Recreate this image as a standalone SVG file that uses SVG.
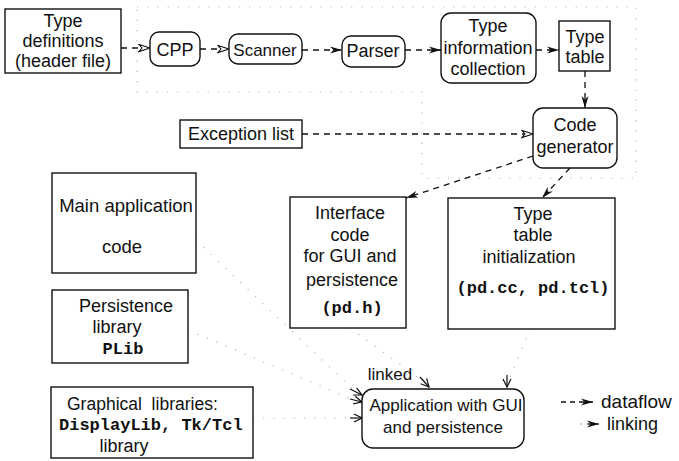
<svg xmlns="http://www.w3.org/2000/svg" width="679" height="461" viewBox="0 0 679 461">
<style>
.box{fill:#fff;stroke:#111;stroke-width:1.4}
.t{font-family:"Liberation Sans",Arial,sans-serif;font-size:18px;fill:#111;text-anchor:middle}
.m{font-family:"Liberation Mono","Courier New",monospace;font-size:17px;font-weight:bold;fill:#111;text-anchor:middle}
.df{fill:none;stroke:#111;stroke-width:1.3;stroke-dasharray:6 5}
.dot{fill:none;stroke:#b5b5b5;stroke-width:1.2;stroke-dasharray:1.2 9}
.lk{fill:none;stroke:#111;stroke-width:1.2}
</style>
<defs>
<marker id="ah" viewBox="0 0 12 8" refX="12" refY="4" markerWidth="12" markerHeight="8" markerUnits="userSpaceOnUse" orient="auto">
<path d="M0,0.5 L12,4 L0,7.5 L3.5,4 z" fill="#111"/>
</marker>
<marker id="ao" viewBox="0 0 13 9" refX="12" refY="4.5" markerWidth="13" markerHeight="9" markerUnits="userSpaceOnUse" orient="auto">
<path d="M1,1 L12,4.5 L1,8 L4,4.5 z" fill="#fff" stroke="#111" stroke-width="1.1"/>
</marker>
<marker id="lv" viewBox="0 0 10 10" refX="9" refY="5" markerWidth="10" markerHeight="10" markerUnits="userSpaceOnUse" orient="auto">
<path d="M1,1 L9,5 L1,9" fill="none" stroke="#111" stroke-width="1.2"/>
</marker>
</defs>

<g id="faint-linking" class="dot">
<path d="M137,7 H636 V178 H422 V92 H137 Z"/>
<path d="M196,240 L360,396"/>
<path d="M188,330 L358,402"/>
<path d="M253,418 L358,418"/>
<path d="M350,328 L428,385"/>
<path d="M530,329 L507,385"/>
</g>

<g id="connectors">
<path class="df" d="M121,48 H150" marker-end="url(#ao)"/>
<path class="df" d="M200,49 H229" marker-end="url(#ao)"/>
<path class="df" d="M302,50 H342" marker-end="url(#ah)"/>
<path class="df" d="M405,50 H441" marker-end="url(#ah)"/>
<path class="df" d="M536,50 H559" marker-end="url(#ah)"/>
<path class="df" d="M585,71 V108" marker-end="url(#ah)"/>
<path class="df" d="M302,134 H533" marker-end="url(#ao)"/>
<path class="df" d="M533,156 L406,198" marker-end="url(#ah)"/>
<path class="df" d="M570,168 L542,198" marker-end="url(#ah)"/>
<path class="lk" d="M420,377 L429,387" marker-end="url(#lv)"/>
<path class="lk" d="M507,375 L507,387" marker-end="url(#lv)"/>
<path class="lk" d="M350,389 L362,395" marker-end="url(#lv)"/>
<path class="lk" d="M350,399 L362,402" marker-end="url(#lv)"/>
<path class="lk" d="M350,418 L362,418" marker-end="url(#lv)"/>
</g>

<g id="type-definitions">
<rect class="box" x="5" y="9" width="116" height="64"/>
<text class="t" x="63" y="27">Type</text>
<text class="t" x="63" y="47">definitions</text>
<text class="t" x="63" y="67">(header file)</text>
</g>
<g id="cpp">
<rect class="box" x="150" y="32" width="50" height="34" rx="9"/>
<text class="t" x="175" y="56">CPP</text>
</g>
<g id="scanner">
<rect class="box" x="229" y="34" width="73" height="30" rx="9"/>
<text class="t" x="265" y="56" style="font-size:17px">Scanner</text>
</g>
<g id="parser">
<rect class="box" x="342" y="36" width="63" height="31" rx="9"/>
<text class="t" x="373" y="57">Parser</text>
</g>
<g id="type-information-collection">
<rect class="box" x="441" y="13" width="95" height="70" rx="10"/>
<text class="t" x="488" y="32">Type</text>
<text class="t" x="488" y="54">information</text>
<text class="t" x="488" y="75">collection</text>
</g>
<g id="type-table">
<rect class="box" x="559" y="21" width="51" height="50"/>
<text class="t" x="585" y="43">Type</text>
<text class="t" x="585" y="63">table</text>
</g>
<g id="exception-list">
<rect class="box" x="180" y="120" width="122" height="28"/>
<text class="t" x="241" y="140">Exception list</text>
</g>
<g id="code-generator">
<rect class="box" x="533" y="108" width="84" height="60" rx="10"/>
<text class="t" x="575" y="131">Code</text>
<text class="t" x="575" y="153">generator</text>
</g>
<g id="main-application-code">
<rect class="box" x="52" y="173" width="144" height="100"/>
<text class="t" x="126" y="212" style="font-size:18.5px">Main application</text>
<text class="t" x="122" y="253" style="font-size:18.5px">code</text>
</g>
<g id="interface-code">
<rect class="box" x="290" y="197" width="116" height="131"/>
<text class="t" x="350" y="219">Interface</text>
<text class="t" x="350" y="241">code</text>
<text class="t" x="350" y="262">for GUI and</text>
<text class="t" x="352" y="286">persistence</text>
<text class="m" x="352" y="313">(pd.h)</text>
</g>
<g id="type-table-initialization">
<rect class="box" x="448" y="198" width="167" height="131"/>
<text class="t" x="533" y="220">Type</text>
<text class="t" x="533" y="241">table</text>
<text class="t" x="529" y="263">initialization</text>
<text class="m" x="533" y="293">(pd.cc, pd.tcl)</text>
</g>
<g id="persistence-library">
<rect class="box" x="52" y="290" width="136" height="73"/>
<text class="t" x="126" y="312">Persistence</text>
<text class="t" x="117" y="333">library</text>
<text class="m" x="123" y="354">PLib</text>
</g>
<g id="graphical-libraries">
<rect class="box" x="51" y="387" width="202" height="71"/>
<text class="t" x="67" y="410" style="text-anchor:start;font-size:17.5px" xml:space="preserve">Graphical  libraries:</text>
<text class="m" x="59" y="430" style="text-anchor:start">DisplayLib, Tk/Tcl</text>
<text class="t" x="124" y="452">library</text>
</g>
<g id="application">
<text class="t" x="390" y="380" style="font-size:17px">linked</text>
<rect class="box" x="362" y="389" width="162" height="59" rx="11"/>
<text class="t" x="446" y="411" style="font-size:17px">Application with GUI</text>
<text class="t" x="443" y="433" style="font-size:17px">and persistence</text>
</g>
<g id="legend">
<path class="df" d="M561,402 H593" marker-end="url(#ah)" style="stroke-dasharray:5 4"/>
<text class="t" x="601" y="408" style="text-anchor:start;font-size:19px">dataflow</text>
<circle cx="581" cy="424" r="0.8" fill="#999"/>
<path class="lk" d="M587,424 H599" marker-end="url(#ah)"/>
<text class="t" x="607" y="430" style="text-anchor:start">linking</text>
</g>
</svg>
